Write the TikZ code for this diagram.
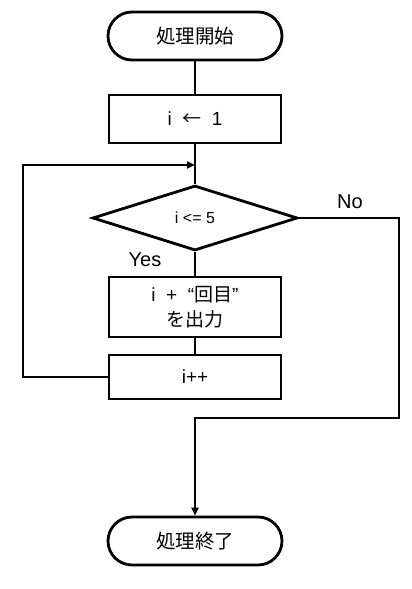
\documentclass[tikz,border=0pt]{standalone}
\usepackage{fontspec}
\setmainfont{Liberation Sans}
\newfontfamily\jp{Noto Sans CJK JP}
\usetikzlibrary{shapes.geometric,arrows.meta}
\tikzset{
  term/.style={draw,line width=2.8pt,rounded corners=24pt,minimum width=174pt,minimum height=48pt,inner sep=0pt,font=\jp\fontsize{19.5}{22}\selectfont},
  proc/.style={draw,line width=2.8pt,minimum width=172pt,inner sep=0pt,align=center},
  dec/.style={draw,line width=2.8pt,diamond,minimum width=205pt,minimum height=65pt,inner sep=0pt,font=\fontsize{16}{18}\selectfont},
  conn/.style={line width=2.8pt},
  arr/.style={conn,-{Triangle[length=8pt,width=7pt]}},
  lbl/.style={font=\fontsize{20}{22}\selectfont,inner sep=0pt}
}
\begin{document}
\begin{tikzpicture}[x=1pt,y=-1pt]
\useasboundingbox (0,0) rectangle (412,589);
\node[term] (start) at (195,36) {処理開始};
\node[proc,minimum height=48pt,font=\fontsize{19}{22}\selectfont] (init) at (195,119) {i\ \ {\jp ←}\ \ 1};
\node[dec] (cond) at (195,218) {i <= 5};
\node[proc,minimum height=60pt,font=\fontsize{19}{25}\selectfont] (out) at (195,307) {i\ \ +\ \ “{\jp 回目}”\\{\jp を出力}};
\node[proc,minimum height=44pt,font=\fontsize{19}{22}\selectfont] (inc) at (195,377) {i++};
\node[term] (stop) at (195,541) {処理終了};
\coordinate (lp) at (23,165);
\coordinate (jn) at (195,165);
\coordinate (rt) at (399,418);
\coordinate (jn2) at (195,418);
\node[lbl] (no) at (350,202) {No};
\node[lbl] (yes) at (145,260) {Yes};
\draw[conn] (start) -- (init);
\draw[conn] (init) -- (cond);
\draw[conn] (cond) -- (out);
\draw[conn] (out) -- (inc);
\draw[arr] (inc.west) -| (lp) -- (jn);
\draw[arr] (cond.east) -| (rt) -- (jn2) -- (stop.north);
\end{tikzpicture}
\end{document}
